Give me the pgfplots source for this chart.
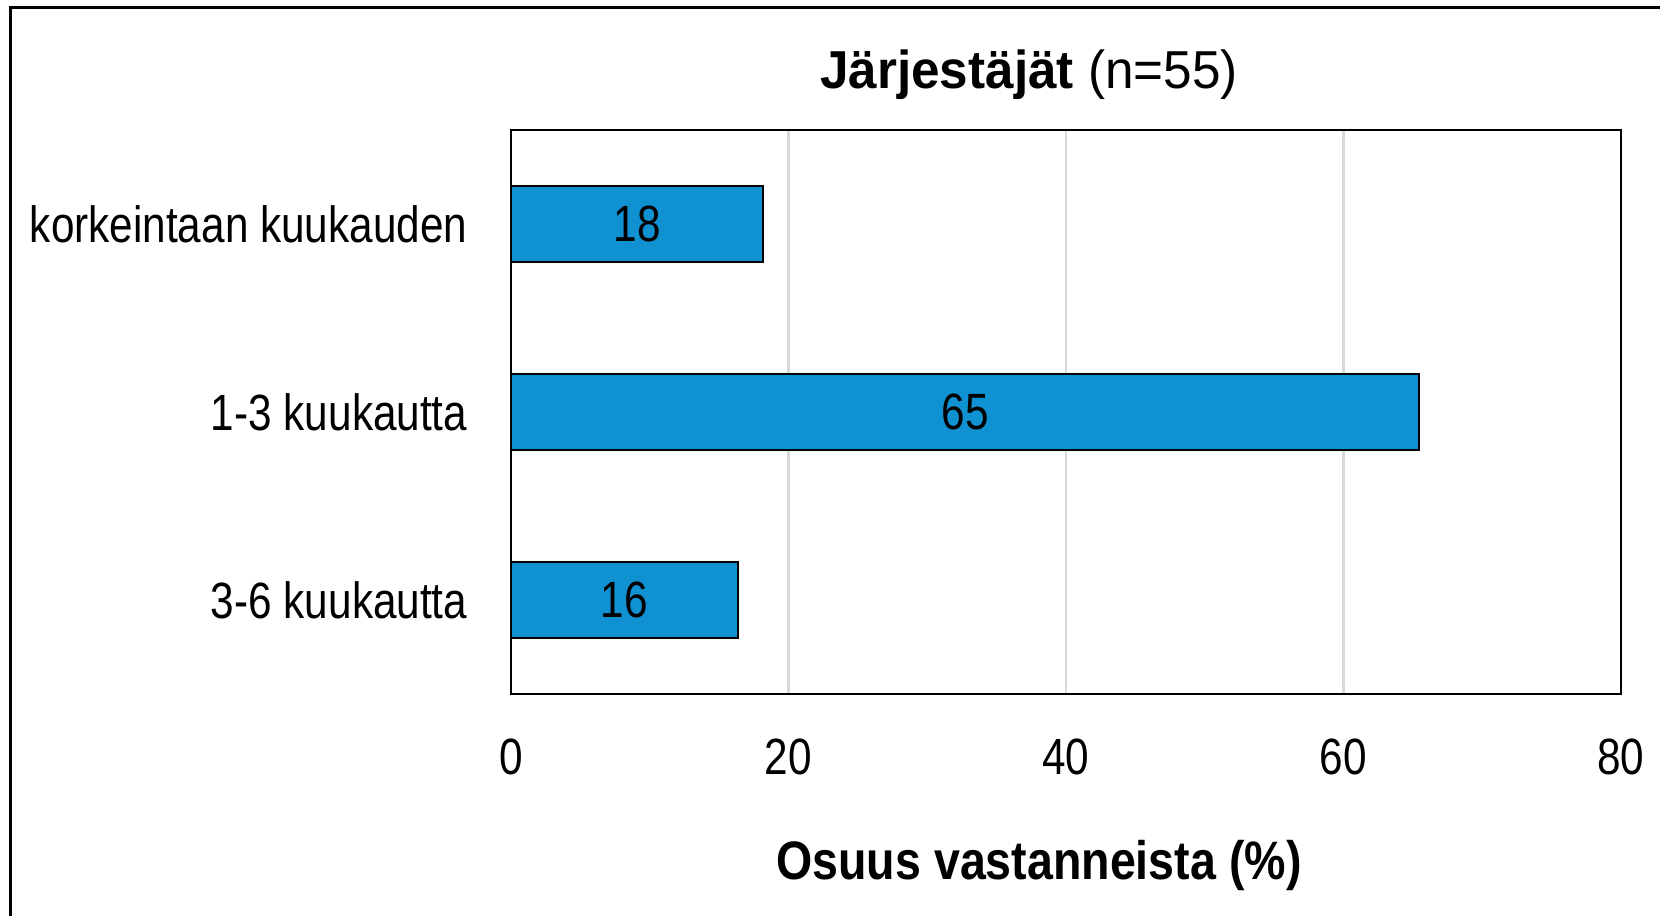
\documentclass[border=0pt]{standalone}
\usepackage{fontspec}
\setmainfont{Liberation Sans}[FakeStretch=0.83]
\newfontfamily\titlefont{Liberation Sans}[FakeStretch=0.96]
\newfontfamily\labelfont{Liberation Sans}[FakeStretch=0.86]
\usepackage{pgfplots}
\pgfplotsset{compat=1.18}

\definecolor{barblue}{RGB}{16,146,210}
\definecolor{gridgray}{RGB}{217,217,217}

\begin{document}
\begin{tikzpicture}
\begin{scope}
\clip (0,0) rectangle (166mm,91.6mm);
% outer frame (cut off at right and bottom in the source image)
\draw[line width=0.85pt] (1.07mm,-5mm) |- (175mm,90.83mm);

\begin{axis}[
 at={(51.1mm,22.2mm)}, anchor=south west,
 width=111mm, height=56.4mm, scale only axis,
 xmin=0, xmax=80,
 ymin=-0.5, ymax=2.5, y dir=reverse,
 xtick={0,20,40,60,80},
 ytick={0,1,2},
 yticklabels={korkeintaan kuukauden, 1-3 kuukautta, 3-6 kuukautta},
 xmajorgrids, major grid style={gridgray, line width=0.6pt},
 tick style={draw=none}, major tick length=0pt,
 axis line style={line width=0.7pt},
 /pgf/number format/assume math mode=true,
 xticklabel style={font=\fontsize{14.5}{17}\selectfont, inner sep=0pt, anchor=base, yshift=-8.1mm},
 yticklabel style={font=\fontsize{14.5}{17}\selectfont, inner sep=0pt, anchor=east, xshift=-4.3mm},
]
\addplot[xbar, fill=barblue, draw=black, line width=0.6pt, bar width=0.4,
 nodes near coords, point meta=x,
 visualization depends on=rawx \as \rawx,
 nodes near coords style={anchor=center, text=black, inner sep=0pt,
   font=\fontsize{14.5}{17}\selectfont,
   /pgf/number format/fixed, /pgf/number format/precision=0,
   /pgf/number format/assume math mode=true},
 every node near coord/.append style={shift={(axis direction cs:-\rawx/2,0)}},
] coordinates {(18.18,0) (65.45,1) (16.36,2)};
\end{axis}

\node[anchor=base, inner sep=0pt] at (102.9mm,82.7mm)
 {\titlefont\fontsize{15.2}{18}\selectfont\bfseries Järjestäjät\mdseries\ (n=55)};
\node[anchor=base, inner sep=0pt] at (103.9mm,3.6mm)
 {\labelfont\fontsize{15.4}{18}\selectfont\bfseries Osuus vastanneista (\%)};
\end{scope}
\pgfresetboundingbox
\path[use as bounding box] (0,0) rectangle (166mm,91.6mm);
\end{tikzpicture}
\end{document}
